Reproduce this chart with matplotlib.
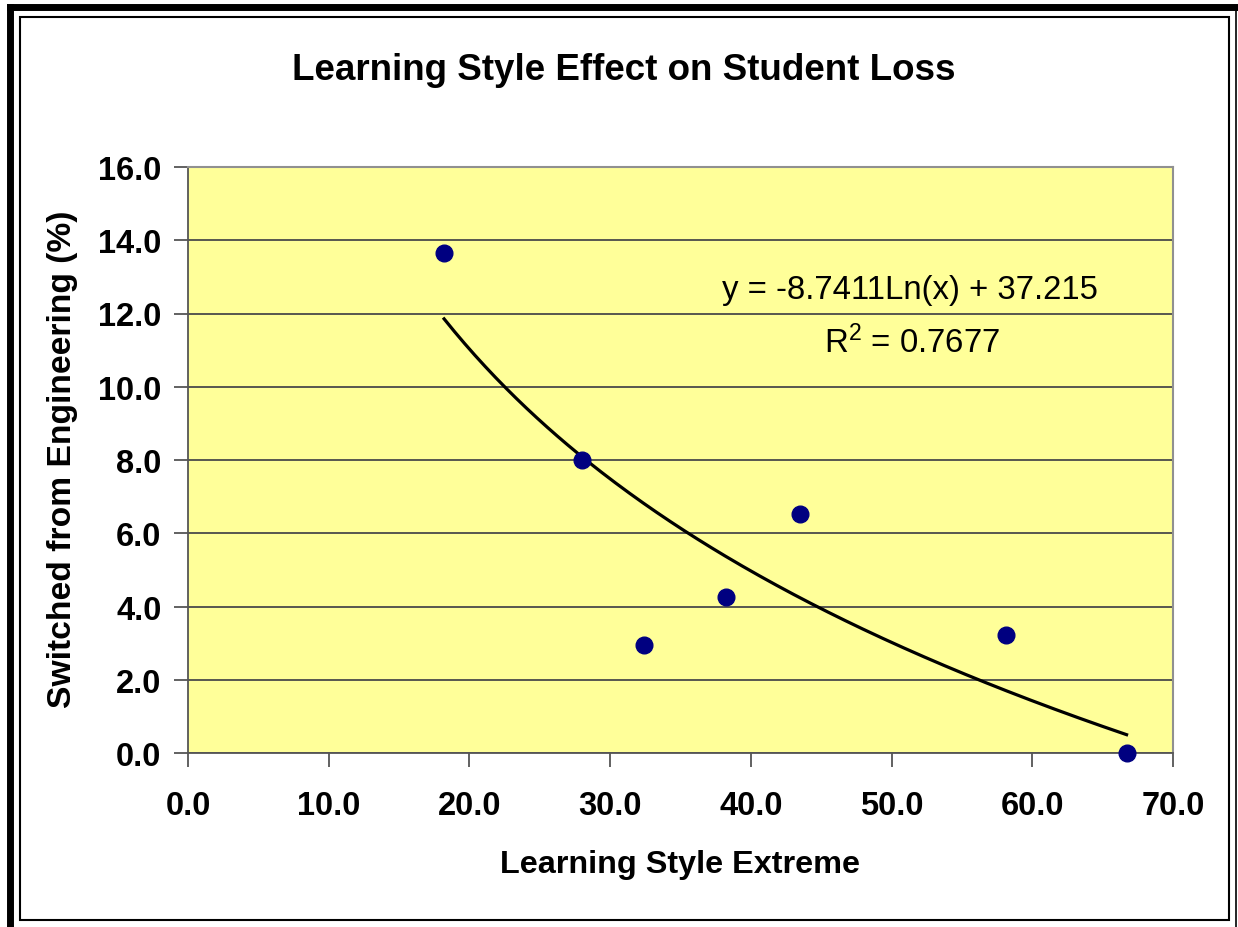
import numpy as np
from matplotlib import pyplot as plt
from matplotlib.patches import Rectangle
from matplotlib.lines import Line2D

# data
styleExtreme = [18.2, 28.0, 32.4, 38.2, 43.5, 58.1, 66.7]
switchedPct = [13.65, 8.0, 2.95, 4.25, 6.52, 3.22, 0.0]

# trendline coefficients shown on the chart
lnSlope = -8.7411
lnIntercept = 37.215
rSquared = 0.7677

xTicks = [0, 10, 20, 30, 40, 50, 60, 70]
yTicks = [0, 2, 4, 6, 8, 10, 12, 14, 16]

plt.rcParams['font.family'] = ['Liberation Sans', 'DejaVu Sans']

fig = plt.figure(figsize=(12.38, 9.28), dpi=100)
fig.patch.set_facecolor('white')

# frame around the chart (Excel style)
fig.add_artist(Rectangle((20/1238, 1 - 921/928), 1209/1238, 903/928, transform=fig.transFigure,
                         fill=False, edgecolor='black', linewidth=1.5))
fig.add_artist(Line2D([10/1238, 10/1238], [0, 1 - 8/928], transform=fig.transFigure, color='black', linewidth=5))
fig.add_artist(Line2D([10/1238, 1], [1 - 8/928, 1 - 8/928], transform=fig.transFigure, color='black', linewidth=5))
fig.add_artist(Line2D([1236/1238, 1236/1238], [0, 1 - 8/928], transform=fig.transFigure, color='black', linewidth=1.2))

ax = fig.add_axes([188/1238, 1 - 754/928, (1173 - 188)/1238, (754 - 168)/928])
ax.set_facecolor('#FFFF99')
ax.set_xlim(0, 70)
ax.set_ylim(0, 16)
ax.set_xticks(xTicks)
ax.set_yticks(yTicks)
ax.set_xticklabels(['%.1f' % t for t in xTicks])
ax.set_yticklabels(['%.1f' % t for t in yTicks])
ax.grid(axis='y', color='#4a4a4a', linewidth=1.3)
ax.set_axisbelow(True)
for side in ['top', 'right']:
    ax.spines[side].set_color('#909090')
    ax.spines[side].set_linewidth(1.5)
for side in ['left', 'bottom']:
    ax.spines[side].set_color('#555555')
    ax.spines[side].set_linewidth(1.3)
ax.tick_params(direction='out', length=10, width=1.3, color='#555555', labelsize=23.5)
ax.tick_params(axis='x', pad=17)
ax.tick_params(axis='y', pad=9)
for lbl in ax.get_xticklabels() + ax.get_yticklabels():
    lbl.set_fontweight('bold')

# logarithmic trendline
xs = np.linspace(min(styleExtreme), max(styleExtreme), 200)
ax.plot(xs, lnSlope * np.log(xs) + lnIntercept, color='black', linewidth=2.3, zorder=3)
ax.plot(styleExtreme, switchedPct, 'o', color='#000080', markersize=12, clip_on=False, zorder=4)

ax.text(910/1238, 1 - 290/928, 'y = -8.7411Ln(x) + 37.215', transform=fig.transFigure,
        ha='center', va='center', fontsize=23.7)
ax.text(912/1238, 1 - 343/928, '$\\mathregular{R^2}$ = %.4f' % rSquared, transform=fig.transFigure,
        ha='center', va='center', fontsize=23.7)

fig.text(624/1238, 1 - 70/928, 'Learning Style Effect on Student Loss', ha='center', va='center',
         fontsize=26.5, fontweight='bold')
fig.text(680/1238, 1 - 865/928, 'Learning Style Extreme', ha='center', va='center',
         fontsize=23.3, fontweight='bold')
fig.text(63/1238, 1 - 459/928, 'Switched from Engineering (%)', ha='center', va='center',
         rotation=90, fontsize=24.2, fontweight='bold')

fig.savefig('out.png', dpi=100)
